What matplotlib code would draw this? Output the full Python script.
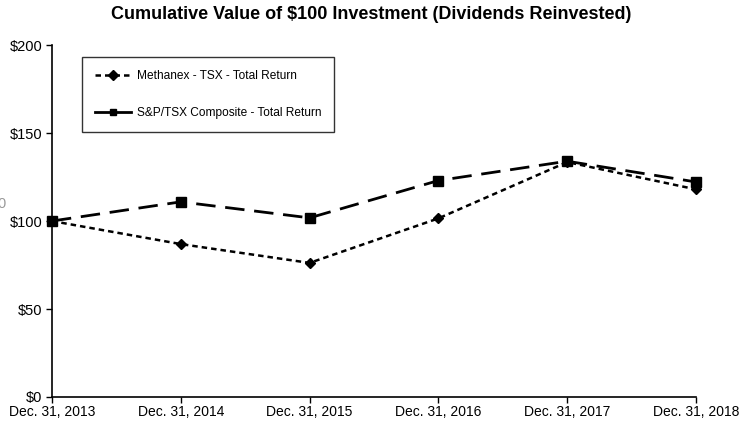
import matplotlib
matplotlib.use("Agg")
import matplotlib.pyplot as plt
from matplotlib.lines import Line2D

years = ["Dec. 31, 2013", "Dec. 31, 2014", "Dec. 31, 2015", "Dec. 31, 2016", "Dec. 31, 2017", "Dec. 31, 2018"]
methanex = [100, 86.9, 76.2, 101.5, 133.5, 118]
sptsx = [100, 110.9, 101.8, 123, 134, 122.2]
yticks = [0, 50, 100, 150, 200]
ytick_labels = ["$0", "$50", "$100", "$150", "$200"]

plt.rcParams['font.family'] = ['Liberation Sans', 'DejaVu Sans']

fig = plt.figure(figsize=(7.42, 4.24), dpi=100)
ax = fig.add_axes([0.070, 0.0637, 0.868, 0.830])

x = list(range(len(years)))
ax.plot(x, sptsx, color='black', lw=2.0, dashes=(7, 3.5), marker='s', ms=7, label="S&P/TSX Composite - Total Return")
ax.plot(x, methanex, color='black', lw=1.8, dashes=(2.2, 1.6), marker='D', ms=5.5, label="Methanex - TSX - Total Return")

ax.set_xlim(0, len(years) - 1)
ax.set_ylim(0, 200)
ax.set_xticks(x)
ax.set_xticklabels(years, fontsize=10)
ax.set_yticks(yticks)
ax.set_yticklabels(ytick_labels, fontsize=10.5)
ax.spines['top'].set_visible(False)
ax.spines['right'].set_visible(False)
ax.spines['left'].set_linewidth(1.2)
ax.spines['bottom'].set_linewidth(1.2)
ax.tick_params(axis='y', direction='out', length=4, width=1, pad=3)
ax.tick_params(axis='x', direction='out', length=4, width=1, pad=2)
for ln in ax.lines:
    ln.set_clip_on(False)

handles = [
    Line2D([], [], color='black', lw=1.8, dashes=(2.2, 1.6), marker='D', ms=5),
    Line2D([], [], color='black', lw=2.0, marker='s', ms=5),
]
labels = ["Methanex - TSX - Total Return", "S&P/TSX Composite - Total Return"]
leg = ax.legend(handles, labels, loc='upper left', bbox_to_anchor=(0.0465, 0.966),
                frameon=True, fancybox=False, edgecolor='black', fontsize=8.6,
                handlelength=3.0, labelspacing=2.1, borderpad=1.1, handletextpad=0.5,
                borderaxespad=0)
leg.get_frame().set_linewidth(1.0)

fig.text(0.5, 0.965, "Cumulative Value of $100 Investment (Dividends Reinvested)",
         ha='center', va='center', fontsize=13, fontweight='bold')
fig.text(-0.004, 0.52, "0", ha='left', va='center', fontsize=10.5, color='#999999')

fig.savefig("out.png", dpi=100)
